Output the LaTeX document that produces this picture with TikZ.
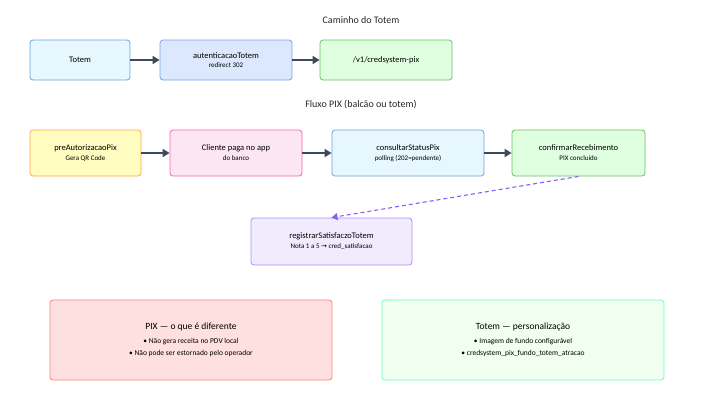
\documentclass[tikz,border=0pt]{standalone}
\usepackage{fontspec}
\setmainfont{Carlito}
\newfontfamily\symfont{DejaVu Sans}
\usetikzlibrary{arrows.meta}
\definecolor{edge}{HTML}{3D4A5C}
\definecolor{authfill}{HTML}{DBE8FD}
\definecolor{authline}{HTML}{7AA3F0}
\definecolor{purp}{HTML}{8B5CF6}
\tikzset{
  box/.style={draw, rounded corners=3pt, line width=0.8pt, align=center, font=\fontsize{8.5}{11}\selectfont},
  flow/.style={-{Triangle[length=7pt,width=8pt]}, line width=2pt, draw=edge},
  title/.style={font=\fontsize{10}{11}\selectfont, text=black!85},
}
\begin{document}
\begin{tikzpicture}[x=1pt,y=-1pt]
  \useasboundingbox (0,0) rectangle (720,400);
  % Caminho do Totem
  \node[title] (t1) at (361,20) {Caminho do Totem};
  \node[box, draw=cyan!60!blue!60, fill=cyan!10, minimum width=100pt, minimum height=40pt] (totem) at (80,60) {Totem};
  \node[box, draw=authline, fill=authfill, minimum width=132pt, minimum height=40pt] (auth) at (226,60) {autenticacaoTotem\\[-2pt]{\fontsize{7}{8}\selectfont redirect 302}};
  \node[box, draw=green!60!black!60, fill=green!12, minimum width=132pt, minimum height=40pt] (v1) at (386,60) {/v1/credsystem-pix};
  \draw[flow] (totem) -- (auth);
  \draw[flow] (auth) -- (v1);
  % Fluxo PIX
  \node[title] (t2) at (361,105) {Fluxo PIX (balcão ou totem)};
  \node[box, draw=orange!70, fill=yellow!25, minimum width=111pt, minimum height=46pt] (pre) at (85.5,153) {preAutorizacaoPix\\[-1pt]{\fontsize{7}{8}\selectfont Gera QR Code}};
  \node[box, draw=magenta!60, fill=magenta!10, minimum width=132pt, minimum height=46pt] (cli) at (236,153) {Cliente paga no app\\[-1pt]{\fontsize{7}{8}\selectfont do banco}};
  \node[box, draw=cyan!60!blue!60, fill=cyan!10, minimum width=152pt, minimum height=46pt] (cons) at (408,153) {consultarStatusPix\\[-1pt]{\fontsize{7}{8}\selectfont polling (202=pendente)}};
  \node[box, draw=green!60!black!60, fill=green!12, minimum width=133pt, minimum height=46pt] (conf) at (578.5,153) {confirmarRecebimento\\[-1pt]{\fontsize{7}{8}\selectfont PIX concluído}};
  \node[box, draw=purp!70, fill=purp!12, minimum width=161pt, minimum height=47pt] (reg) at (331.5,241.5) {registrarSatisfaczoTotem\\[-1pt]{\fontsize{7}{8}\selectfont Nota 1 a 5 {\symfont→} cred\_satisfacao}};
  \draw[flow] (pre) -- (cli);
  \draw[flow] (cli) -- (cons);
  \draw[flow] (cons) -- (conf);
  \draw[-{Triangle[length=6pt,width=7pt]}, draw=purp, line width=1.1pt, dash pattern=on 4pt off 3pt] (conf.south) -- (reg.north);
  % Notas
  \node[box, draw=red!50, fill=red!12, minimum width=282pt, minimum height=80pt] (nota1) at (191,340) {{\fontsize{9.5}{11}\selectfont PIX — o que é diferente}\\[3pt]{\fontsize{7.5}{9}\selectfont • Não gera receita no PDV local}\\[1pt]{\fontsize{7.5}{9}\selectfont • Não pode ser estornado pelo operador}};
  \node[box, draw=green!45!cyan!60, fill=green!6, minimum width=282pt, minimum height=80pt] (nota2) at (523,340) {{\fontsize{9.5}{11}\selectfont Totem — personalização}\\[3pt]{\fontsize{7.5}{9}\selectfont • Imagem de fundo configurável}\\[1pt]{\fontsize{7.5}{9}\selectfont • credsystem\_pix\_fundo\_totem\_atracao}};
\end{tikzpicture}
\end{document}
